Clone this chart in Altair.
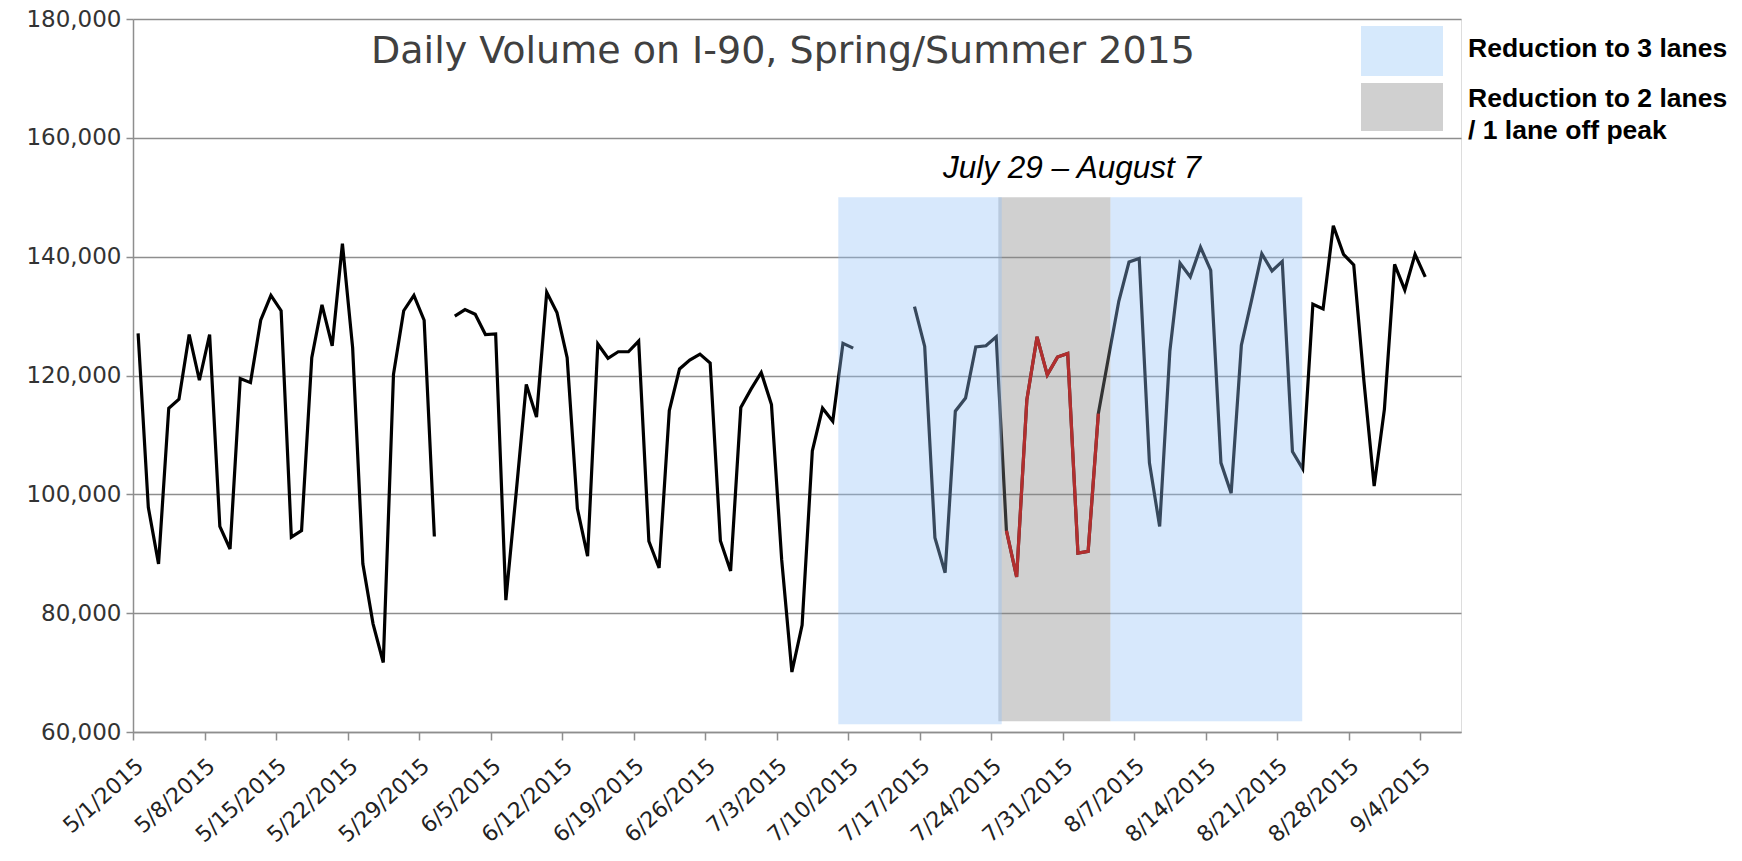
import altair as alt
import pandas as pd

# ---------------- data ----------------
start_date = "2015-05-01"
end_date = "2015-09-08"
# daily volume, one value per day from 5/1/2015 (None = no data)
volumes = [
    127100, 97800, 88300, 114500, 116000, 126900, 119200, 126900, 94600, 90800,
    119500, 118800, 129300, 133500, 130900, 92800, 93900, 123000, 131900, 125000,
    142200, 124700, 88300, 78200, 71700, 120200, 130900, 133500, 129300, 92900,
    None, 130000, 131100, 130300, 126900, 127000, 82200, 100100, 118500, 113000,
    134000, 130600, 123000, 97600, 89600, 125300, 122900, 124000, 124000, 125800,
    92100, 87600, 114100, 121100, 122600, 123600, 122100, 92200, 87100, 114600,
    117700, 120500, 115100, 89000, 70100, 78000, 107300, 114500, 112300, 125400,
    124600, None, None, None, None, None, 131600, 124900, 92700, 86800,
    114000, 116200, 124800, 125000, 126500, 93900, 86100, 115900, 126500, 120100,
    123100, 123700, 90100, 90400, 113600, 123100, 132500, 139100, 139700, 105300,
    94600, 124100, 138900, 136600, 141600, 137700, 105300, 100200, 125100, 132700,
    140500, 137600, 139200, 107200, 104300, 132000, 131200, 145200, 140400, 138600,
    119000, 101400, 114300, 138700, 134400, 140400, 136600,
]
red_start = "2015-07-25"
red_end = "2015-08-03"

tick_dates = ["2015-05-01", "2015-05-08", "2015-05-15", "2015-05-22", "2015-05-29",
              "2015-06-05", "2015-06-12", "2015-06-19", "2015-06-26", "2015-07-03",
              "2015-07-10", "2015-07-17", "2015-07-24", "2015-07-31", "2015-08-07",
              "2015-08-14", "2015-08-21", "2015-08-28", "2015-09-04"]
y_ticks = [60000, 80000, 100000, 120000, 140000, 160000, 180000]

zone_kind = ["gray", "blue", "blue"]
zone_start = ["2015-07-24T17:00:00Z", "2015-07-09T01:00:00Z", "2015-08-04T16:30:00Z"]
zone_end = ["2015-08-04T16:30:00Z", "2015-07-25T01:00:00Z", "2015-08-23T11:00:00Z"]
zone_top = [150000, 150000, 150000]
zone_bottom = [61800, 61300, 61800]

title_text = "Daily Volume on I-90, Spring/Summer 2015"
note_text = "July 29 \u2013 August 7"
legend_labels = ["Reduction to 3 lanes", "Reduction to 2 lanes", "/ 1 lane off peak"]

# ---------------- build tables ----------------
def ms(s):
    return int(pd.Timestamp(s, tz="UTC").timestamp() * 1000)

days = pd.date_range(start_date, periods=len(volumes), freq="D")
rows = []
seg = 0
gap = False
for d, v in zip(days, volumes):
    if v is None:
        gap = True
        continue
    if gap:
        seg += 1
        gap = False
    rows.append({"t": (d + pd.Timedelta(hours=12)).strftime("%Y-%m-%dT%H:%M:%SZ"),
                 "v": v, "seg": seg, "day": d})
df = pd.DataFrame(rows)
df_red = df[(df["day"] >= pd.Timestamp(red_start)) & (df["day"] <= pd.Timestamp(red_end))].copy()
df = df.drop(columns=["day"])
df_red = df_red.drop(columns=["day"])

fill_map = {"blue": "#93c1f7", "gray": "#858585"}
op_map = {"blue": 0.373, "gray": 0.384}
zones = pd.DataFrame({
    "s": zone_start, "e": zone_end, "top": zone_top, "bot": zone_bottom,
    "fill": [fill_map[k] for k in zone_kind],
    "op": [op_map[k] for k in zone_kind],
    "ord": list(range(len(zone_kind))),
})

W, H = 1328, 713
TOP = 11
FONT = "DejaVu Sans"

xscale = alt.Scale(type="utc", domain=[ms(start_date), ms(end_date)])
yscale = alt.Scale(domain=[60000, 180000], nice=False, zero=False)

xaxis = alt.Axis(values=[ms(t) for t in tick_dates], format="%-m/%-d/%Y",
                 labelAngle=-42, labelAlign="right", labelBaseline="top",
                 labelFont=FONT, labelFontSize=22, labelColor="#222222",
                 domainColor="#8e8e8e", domainWidth=1.5, tickColor="#8e8e8e", tickWidth=1.5,
                 tickSize=8, grid=False, labelPadding=15, labelOverlap=False, title=None)
yaxis = alt.Axis(values=y_ticks, format=",d", labelFont=FONT, labelFontSize=23,
                 labelColor="#333333", domainColor="#8e8e8e", domainWidth=1.5,
                 tickColor="#8e8e8e", tickWidth=1.5, tickSize=7, labelPadding=5,
                 grid=True, gridColor="#8e8e8e", gridWidth=1.3, title=None)

base_line = alt.Chart(df).mark_line(color="#000000", strokeWidth=3.2).encode(
    x=alt.X("t:T", scale=xscale, axis=xaxis),
    y=alt.Y("v:Q", scale=yscale, axis=yaxis),
    detail="seg:N",
)

zone_layer = alt.Chart(zones).mark_rect().encode(
    x=alt.X("s:T", scale=xscale),
    x2="e:T",
    y=alt.Y("top:Q", scale=yscale),
    y2="bot:Q",
    fill=alt.Fill("fill:N", scale=None),
    opacity=alt.Opacity("op:Q", scale=None),
    order="ord:Q",
)

red_line = alt.Chart(df_red).mark_line(color="#b22e2e", strokeWidth=3.2).encode(
    x=alt.X("t:T", scale=xscale),
    y=alt.Y("v:Q", scale=yscale),
)

one = pd.DataFrame({"k": [0]})
dy = 9 - TOP

title_mark = alt.Chart(one).mark_text(
    text=title_text, font=FONT, fontSize=38, color="#404040", align="center", baseline="alphabetic"
).encode(x=alt.value(650), y=alt.value(46 + dy))

note_mark = alt.Chart(one).mark_text(
    text=note_text, font="Liberation Sans", fontStyle="italic", fontSize=31.5, color="#000000",
    align="center", baseline="alphabetic"
).encode(x=alt.value(939), y=alt.value(161 + dy))

sw_blue = alt.Chart(one).mark_rect(color="#d6e9fc").encode(
    x=alt.value(1228), x2=alt.value(1310), y=alt.value(9 + dy), y2=alt.value(59 + dy))
sw_gray = alt.Chart(one).mark_rect(color="#d0d0d0").encode(
    x=alt.value(1228), x2=alt.value(1310), y=alt.value(66 + dy), y2=alt.value(114 + dy))

legend_text = []
for lab, yy in zip(legend_labels, [40, 90, 122]):
    legend_text.append(alt.Chart(one).mark_text(
        text=lab, font="Liberation Sans", fontWeight="bold", fontSize=26.5, color="#000000",
        align="left", baseline="alphabetic"
    ).encode(x=alt.value(1335), y=alt.value(yy + dy)))

chart = alt.layer(base_line, zone_layer, red_line, title_mark, note_mark, sw_blue, sw_gray,
                  *legend_text).properties(
    width=W, height=H,
    autosize=alt.AutoSizeParams(type="none"),
    padding={"left": 125, "top": TOP, "right": 268, "bottom": 122},
).configure_view(stroke=None).configure(background="white")

chart.save("out.html", embed_options={"renderer": "svg", "actions": False})
